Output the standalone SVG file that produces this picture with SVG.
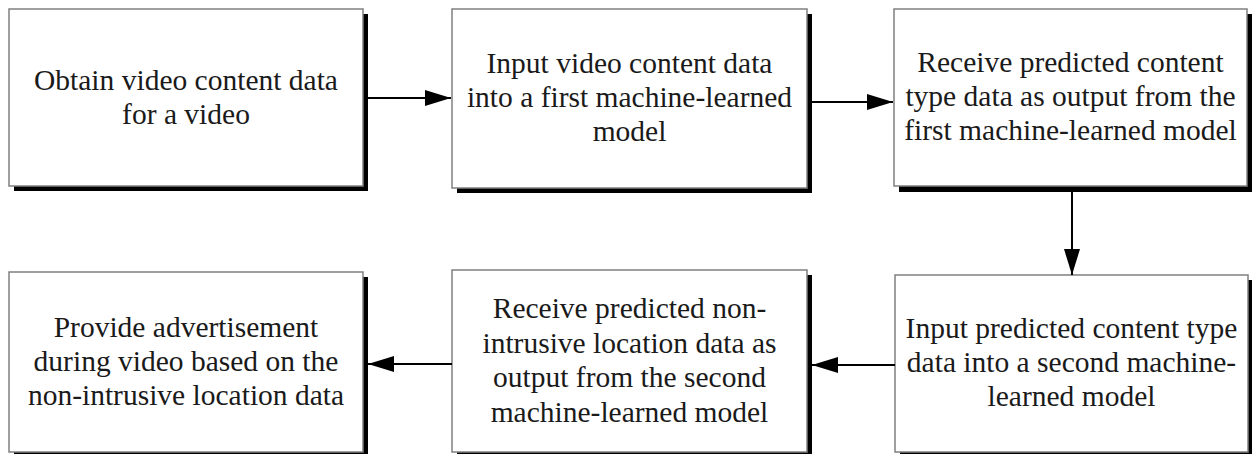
<svg xmlns="http://www.w3.org/2000/svg" width="1252" height="454" viewBox="0 0 1252 454">
<style>
.sh{fill:#000}
.bx{fill:#fff;stroke:#808080;stroke-width:1.5}
.t{font-family:"Liberation Serif","Times New Roman",serif;font-size:29.5px;fill:#1a1a1a;text-anchor:middle}
.c{stroke:#000;stroke-width:2;fill:none}
</style>
<defs>
<marker id="ah" viewBox="0 0 26 16" refX="26" refY="8" markerWidth="26" markerHeight="16" markerUnits="userSpaceOnUse" orient="auto">
<path d="M0,0 L26,8 L0,16 Z" fill="#000"/>
</marker>
</defs>
<rect width="1252" height="454" fill="#fff"/>
<g id="n1">
<rect class="sh" x="14" y="14" width="354" height="177"/>
<rect class="bx" x="9" y="9" width="354" height="177"/>
<text class="t"><tspan x="186" y="90">Obtain video content data</tspan><tspan x="186" y="124">for a video</tspan></text>
</g>
<g id="n2">
<rect class="sh" x="457" y="14" width="355" height="179"/>
<rect class="bx" x="452" y="9" width="355" height="179"/>
<text class="t"><tspan x="629.5" y="73">Input video content data</tspan><tspan x="629.5" y="107">into a first machine-learned</tspan><tspan x="629.5" y="141">model</tspan></text>
</g>
<g id="n3">
<rect class="sh" x="899" y="14" width="353" height="178"/>
<rect class="bx" x="894" y="9" width="353" height="177"/>
<text class="t"><tspan x="1070.5" y="72">Receive predicted content</tspan><tspan x="1070.5" y="106">type data as output from the</tspan><tspan x="1070.5" y="140">first machine-learned model</tspan></text>
</g>
<g id="n4">
<rect class="sh" x="900" y="280" width="353" height="179"/>
<rect class="bx" x="895" y="275" width="353" height="177"/>
<text class="t"><tspan x="1071.5" y="338">Input predicted content type</tspan><tspan x="1071.5" y="372">data into a second machine-</tspan><tspan x="1071.5" y="406">learned model</tspan></text>
</g>
<g id="n5">
<rect class="sh" x="457" y="275" width="355" height="184"/>
<rect class="bx" x="452" y="270" width="355" height="182"/>
<text class="t"><tspan x="629.5" y="318">Receive predicted non-</tspan><tspan x="629.5" y="352.5">intrusive location data as</tspan><tspan x="629.5" y="387">output from the second</tspan><tspan x="629.5" y="421.5">machine-learned model</tspan></text>
</g>
<g id="n6">
<rect class="sh" x="14" y="277" width="354" height="182"/>
<rect class="bx" x="9" y="272" width="354" height="180"/>
<text class="t"><tspan x="186" y="337">Provide advertisement</tspan><tspan x="186" y="371">during video based on the</tspan><tspan x="186" y="405">non-intrusive location data</tspan></text>
</g>
<g id="connectors">
<line class="c" x1="368" y1="98" x2="451" y2="98" marker-end="url(#ah)"/>
<line class="c" x1="812" y1="102" x2="893" y2="102" marker-end="url(#ah)"/>
<line class="c" x1="1072" y1="192" x2="1072" y2="275" marker-end="url(#ah)"/>
<line class="c" x1="895" y1="365" x2="812" y2="365" marker-end="url(#ah)"/>
<line class="c" x1="452" y1="364" x2="368" y2="364" marker-end="url(#ah)"/>
</g>
</svg>
